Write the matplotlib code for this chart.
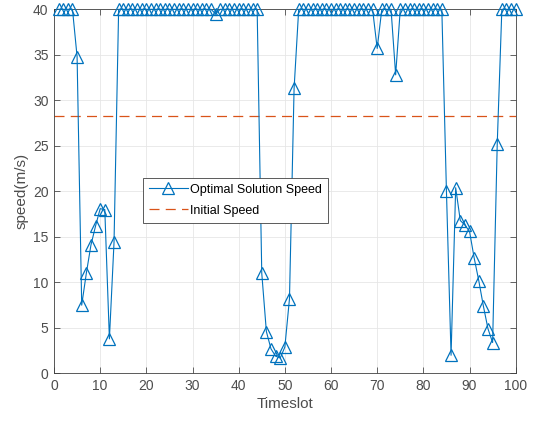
import numpy as np
import matplotlib
matplotlib.use("Agg")
import matplotlib.pyplot as plt

# ==========================
# DATA
# ==========================

timeslot = np.arange(1, 101)

speed = [
    40, 40, 40, 40, 34.8, 7.5, 11.0, 14.1, 16.2, 18.1,
    18.0, 3.8, 14.4, 40, 40, 40, 40, 40, 40, 40,
    40, 40, 40, 40, 40, 40, 40, 40, 40, 40,
    40, 40, 40, 40, 39.5, 40, 40, 40, 40, 40,
    40, 40, 40, 40, 11.0, 4.6, 2.7, 1.9, 1.7, 2.9,
    8.2, 31.3, 40, 40, 40, 40, 40, 40, 40, 40,
    40, 40, 40, 40, 40, 40, 40, 40, 40, 35.7,
    40, 40, 40, 32.8, 40, 40, 40, 40, 40, 40,
    40, 40, 40, 40, 20.0, 2.0, 20.4, 16.8, 16.3, 15.6,
    12.7, 10.2, 7.4, 4.9, 3.4, 25.2, 40, 40, 40, 40,
]

initial_speed = 28.3

# ==========================
# PLOT
# ==========================

plt.rcParams["font.family"] = ["Liberation Sans", "DejaVu Sans"]
plt.rcParams["font.size"] = 10

fig = plt.figure(figsize=(5.4, 4.22), dpi=100)
ax = fig.add_axes([0.1, 0.115, 0.855, 0.863])

ax.plot(timeslot, speed, color="#0072BD", lw=0.8, marker="^",
        markersize=8, markerfacecolor="none", markeredgewidth=0.9,
        label="Optimal Solution Speed", clip_on=False, zorder=3)
ax.axhline(initial_speed, color="#D95319", lw=0.9, ls=(0, (8, 5)),
           label="Initial Speed")

ax.set_xlim(0, 100)
ax.set_ylim(0, 40)
ax.set_xticks(np.arange(0, 101, 10))
ax.set_yticks(np.arange(0, 41, 5))
ax.set_xlabel("Timeslot", color="#4d4d4d", fontsize=11, labelpad=3)
ax.set_ylabel("speed(m/s)", color="#4d4d4d", fontsize=11, labelpad=3)

ax.grid(True, color="#e6e6e6", lw=0.6)
ax.set_axisbelow(True)
ax.tick_params(direction="in", top=True, right=True, colors="#4d4d4d",
               length=4, width=0.6, labelsize=10, pad=4)
for sp in ax.spines.values():
    sp.set_color("#404040")
    sp.set_linewidth(0.6)

leg = ax.legend(loc="upper left", bbox_to_anchor=(0.192, 0.538),
                fancybox=False, framealpha=1, edgecolor="#404040",
                fontsize=9, handlelength=3.1, borderaxespad=0,
                borderpad=0.5, labelspacing=0.7, handletextpad=0.2)
leg.get_frame().set_linewidth(0.6)

fig.savefig("out.png", dpi=100)
